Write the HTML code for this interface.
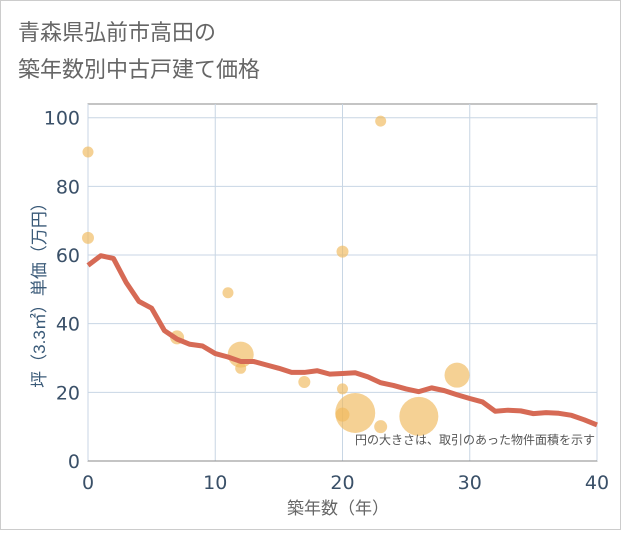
<!DOCTYPE html>
<html><head><meta charset="utf-8"><style>
body{margin:0;background:#fff;font-family:"Liberation Sans","Noto Sans CJK JP",sans-serif}
#wrap{position:relative;width:619px;height:528px;border:1px solid #ccc;}
</style></head><body>
<div id="wrap">
<svg id="svg" width="619" height="528" xmlns="http://www.w3.org/2000/svg">
<text x="17" y="39" font-size="22" fill="#666">青森県弘前市高田の</text>
<text x="17" y="76" font-size="22" fill="#666">築年数別中古戸建て価格</text>
<g id="grid"></g><g id="marks"></g>
<text x="337" y="513" font-size="17" fill="#666" text-anchor="middle">築年数（年）</text>
<text transform="translate(44,290) rotate(-90)" font-size="17" fill="#3a5a78" text-anchor="middle">坪（3.3㎡）単価（万円）</text>
<text x="594" y="443" font-size="12" fill="#555" text-anchor="end">円の大きさは、取引のあった物件面積を示す</text>
</svg></div>
<script>
const xTicks=[0,10,20,30,40];
const yTicks=[0,20,40,60,80,100];
const lineYears=[0,1,2,3,4,5,6,7,8,9,10,11,12,13,14,15,16,17,18,19,20,21,22,23,24,25,26,27,28,29,30,31,32,33,34,35,36,37,38,39,40];
const lineValues=[57,59.8,59,52,46.5,44.5,38,35.5,34,33.5,31.3,30.3,29,29,28,27,25.8,25.8,26.3,25.3,25.5,25.7,24.5,22.8,22,21,20.2,21.3,20.5,19.3,18.2,17.2,14.5,14.8,14.6,13.8,14.1,13.9,13.3,12,10.5];
const bubbleX=[0,0,7,11,12,12,17,20,20,20,21,23,23,26,29];
const bubbleY=[90,65,36,49,31,27,23,61,21,13.5,14,10,99,13,25];
const bubbleR=[5.5,6,7,5.5,13,5.5,6,6,5.5,7,20,6.5,5.5,19.5,12.5];
const X0=87,X1=596,Y0=460,Y100=116.7;
const sx=v=>X0+(X1-X0)*v/40, sy=v=>Y0-(Y0-Y100)*v/100;
const NS="http://www.w3.org/2000/svg";
const grid=document.getElementById('grid'),marks=document.getElementById('marks');
function mk(t,a,p){const e=document.createElementNS(NS,t);for(const k in a)e.setAttribute(k,a[k]);p.appendChild(e);return e;}
const frame=mk('rect',{x:X0,y:103,width:X1-X0,height:Y0-103,fill:'none',stroke:'#888','stroke-width':1},grid);


yTicks.forEach(v=>{const l=mk('line',{x1:X0,x2:X1,y1:sy(v),y2:sy(v),stroke:'#c8d6e4','stroke-width':1},grid);


const t=mk('text',{x:X0-8,y:sy(v)+7,'font-size':19,'font-family':'DejaVu Sans, sans-serif',fill:'#3a5068','text-anchor':'end'},grid);t.textContent=v;

});
xTicks.forEach(v=>{const l=mk('line',{x1:sx(v),x2:sx(v),y1:103,y2:Y0,stroke:'#c8d6e4','stroke-width':1},grid);


const t=mk('text',{x:sx(v),y:Y0+28,'font-size':19,'font-family':'DejaVu Sans, sans-serif',fill:'#3a5068','text-anchor':'middle'},grid);t.textContent=v;

});
mk('line',{x1:X0,x2:X1,y1:Y0,y2:Y0,stroke:'#888'},grid);
bubbleX.forEach((v,i)=>{const c=mk('circle',{cx:sx(v),cy:sy(bubbleY[i]),r:bubbleR[i],fill:'#f0b95a','fill-opacity':0.65},marks);

});
const p=mk('polyline',{points:lineYears.map((v,i)=>sx(v)+','+sy(lineValues[i])).join(' '),fill:'none',stroke:'#d66a55','stroke-width':5,'stroke-linejoin':'round'},marks);


</script>
</body></html>
